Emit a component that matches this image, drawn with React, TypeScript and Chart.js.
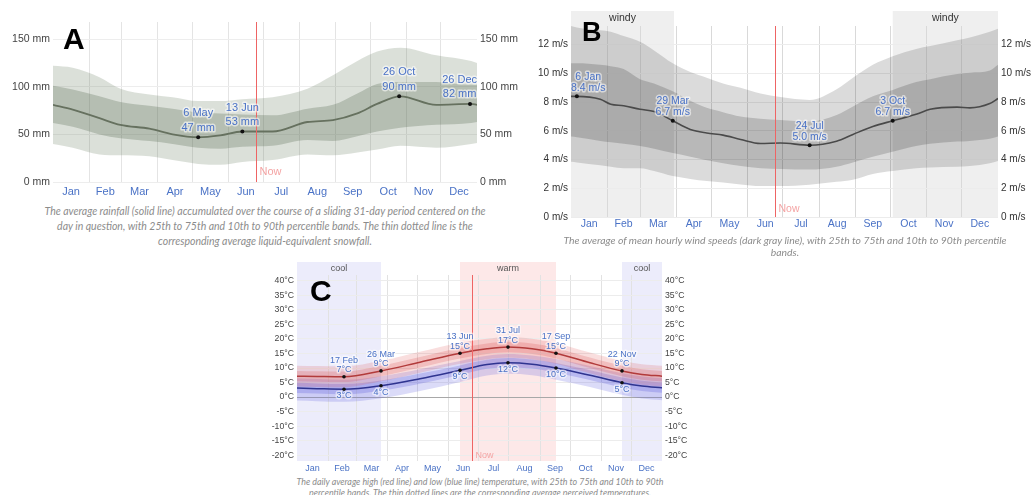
import React, { useEffect, useRef } from 'react';
import { Chart, registerables } from 'chart.js';
Chart.register(...registerables);

// ---------- shared calendar ----------
const MONTHS = ['Jan', 'Feb', 'Mar', 'Apr', 'May', 'Jun', 'Jul', 'Aug', 'Sep', 'Oct', 'Nov', 'Dec'];
const MONTH_STARTS = [0, 31, 59, 90, 120, 151, 181, 212, 243, 273, 304, 334, 365];
const NOW_DAY = 174.5;

// ---------- Panel A: rainfall (mm) ----------
const A_DAYS = [0, 17, 40, 58, 83, 103, 125, 144, 163, 189, 219, 241, 262, 279, 299, 330, 360, 365];
const A_MEAN = [81, 76, 67, 60, 56, 50, 47, 49, 53, 53, 63, 65, 72, 82, 90, 81, 82, 81];
const A_P90 = [122, 120, 110, 98, 92, 89, 85, 85, 87, 89, 98, 112, 127, 137, 141, 133, 127, 125];
const A_P75 = [101, 97, 90, 84, 80, 77, 73, 72, 71, 70, 77, 81, 93, 103, 105, 105, 102, 102];
const A_P25 = [62, 58, 50, 46, 43, 40, 36, 35, 37, 38, 44, 43, 48, 53, 57, 60, 62, 63];
const A_P10 = [40, 36, 29, 28, 27, 23, 19, 18, 21, 23, 29, 28, 31, 34, 38, 36, 40, 41];
const A_Y_TICKS = [0, 50, 100, 150];
const A_ANN_DAYS = [125, 163, 298, 359];
const A_ANN_VALUES = [47, 53, 90, 82];
const A_ANN_DATES = ['6 May', '13 Jun', '26 Oct', '26 Dec'];

// ---------- Panel B: wind speed (m/s) ----------
const B_DAYS = [0, 5, 25, 34, 45, 59, 71, 87, 102, 116, 130, 145, 162, 179, 204, 227, 241, 258, 275, 295, 307, 330, 341, 358, 365];
const B_MEAN = [8.4, 8.4, 8.2, 7.85, 7.75, 7.5, 7.35, 6.7, 6.1, 5.85, 5.7, 5.4, 5.12, 5.15, 5.0, 5.28, 5.75, 6.3, 6.7, 7.15, 7.5, 7.65, 7.6, 7.9, 8.25];
const B_P90 = [13.3, 13.2, 13.0, 12.9, 12.6, 12.2, 11.6, 10.7, 10.1, 9.7, 9.3, 9.0, 8.6, 8.35, 8.15, 8.9, 9.7, 10.6, 11.2, 11.7, 11.9, 12.3, 12.5, 12.9, 13.1];
const B_P75 = [10.7, 10.7, 10.6, 10.5, 10.3, 9.6, 9.3, 8.75, 8.1, 7.6, 7.3, 7.0, 6.85, 6.75, 6.65, 7.1, 7.7, 8.4, 8.85, 9.4, 9.6, 9.95, 10.05, 10.2, 10.6];
const B_P25 = [5.6, 5.55, 5.3, 5.2, 5.1, 4.95, 4.75, 4.45, 4.2, 3.95, 3.75, 3.55, 3.4, 3.35, 3.3, 3.5, 3.8, 4.2, 4.55, 4.95, 5.1, 5.25, 5.3, 5.45, 5.6];
const B_P10 = [3.85, 3.8, 3.6, 3.5, 3.4, 3.4, 3.2, 2.85, 2.65, 2.5, 2.4, 2.27, 2.15, 2.15, 2.25, 2.45, 2.6, 3.0, 3.2, 3.4, 3.45, 3.5, 3.55, 3.75, 3.9];
const B_Y_TICKS = [0, 2, 4, 6, 8, 10, 12];
const B_WINDY = [[0, 88], [275, 365]];
const B_ANN_DAYS = [5, 87, 204, 275];
const B_ANN_VALUES = [8.4, 6.7, 5.0, 6.7];
const B_ANN_DATES = ['6 Jan', '29 Mar', '24 Jul', '3 Oct'];

// ---------- Panel C: temperature (°C) ----------
const C_DAYS = [0, 20, 47, 84, 123, 163, 190, 211, 235, 259, 293, 325, 345, 365];
const C_HIGH = [7.2, 7.1, 7.0, 9.0, 12.0, 15.1, 16.6, 17.2, 16.6, 15.1, 11.8, 9.0, 7.8, 7.2];
const C_HIGH_P90 = [10.8, 10.7, 10.6, 12.5, 15.6, 18.7, 20.1, 20.7, 20.1, 18.6, 15.3, 12.5, 11.3, 10.8];
const C_HIGH_P75 = [9.0, 8.9, 8.8, 10.8, 13.8, 16.9, 18.4, 19.0, 18.4, 16.9, 13.6, 10.8, 9.6, 9.0];
const C_HIGH_P25 = [5.4, 5.3, 5.2, 7.2, 10.2, 13.3, 14.8, 15.4, 14.8, 13.3, 10.0, 7.2, 6.0, 5.4];
const C_HIGH_P10 = [3.6, 3.5, 3.4, 5.4, 8.4, 11.5, 13.0, 13.6, 13.0, 11.5, 8.2, 5.4, 4.2, 3.6];
const C_LOW = [3.1, 2.9, 2.7, 3.9, 6.3, 9.2, 11.2, 11.8, 11.3, 10.0, 7.5, 4.95, 3.8, 3.2];
const C_LOW_P90 = [6.4, 6.2, 6.0, 7.2, 9.6, 12.4, 14.2, 14.8, 14.3, 13.1, 10.7, 8.2, 7.1, 6.5];
const C_LOW_P75 = [4.9, 4.7, 4.5, 5.7, 8.1, 10.9, 12.8, 13.4, 12.9, 11.7, 9.2, 6.7, 5.6, 5.0];
const C_LOW_P25 = [1.4, 1.2, 1.0, 2.2, 4.6, 7.6, 9.7, 10.3, 9.8, 8.4, 5.9, 3.3, 2.1, 1.5];
const C_LOW_P10 = [-1.2, -1.4, -1.6, -0.4, 2.1, 5.2, 7.4, 8.0, 7.5, 6.0, 3.5, 0.8, -0.5, -1.1];
const C_Y_TICKS = [-20, -15, -10, -5, 0, 5, 10, 15, 20, 25, 30, 35, 40];
const C_COOL = [[0, 84], [325, 365]];
const C_WARM = [[163, 259]];
const C_ANN_DAYS = [47, 84, 163, 211, 259, 325];
const C_ANN_DATES = ['17 Feb', '26 Mar', '13 Jun', '31 Jul', '17 Sep', '22 Nov'];
const C_ANN_HIGH = [7.0, 9.0, 15.1, 17.2, 15.1, 9.0];
const C_ANN_LOW = [2.7, 3.9, 9.2, 11.8, 10.0, 4.95];

// ---------- helpers ----------
const FONT = "'Liberation Sans', Arial, Helvetica, sans-serif";
const BLUE = '#4a72c6';
const CLEAR = 'rgba(0,0,0,0)';

function pts(days: number[], vals: number[]) {
  return days.map((d, i) => ({ x: d, y: vals[i] }));
}
function lineDs(days: number[], vals: number[], color: string, width: number) {
  return { data: pts(days, vals), borderColor: color, borderWidth: width, pointRadius: 0, fill: false, cubicInterpolationMode: 'monotone' };
}
function bandDs(days: number[], vals: number[], fill: number | false, color?: string) {
  return {
    data: pts(days, vals), borderWidth: 0, borderColor: CLEAR, pointRadius: 0, fill,
    backgroundColor: color || CLEAR, cubicInterpolationMode: 'monotone',
  };
}

function xAxis(fontSize: number, height: number, padding: number, gridColor: string) {
  return {
    type: 'linear', min: 0, max: 365,
    afterBuildTicks: (s: any) => {
      const t: any[] = [];
      for (let i = 0; i < 12; i++) {
        t.push({ value: MONTH_STARTS[i] });
        t.push({ value: (MONTH_STARTS[i] + MONTH_STARTS[i + 1]) / 2 });
      }
      t.push({ value: 365 });
      s.ticks = t;
    },
    afterFit: (s: any) => { s.height = height; },
    ticks: {
      autoSkip: false, maxRotation: 0, minRotation: 0, padding, color: BLUE,
      font: { family: FONT, size: fontSize },
      callback: (v: number) => {
        for (let i = 0; i < 12; i++) {
          if (Math.abs((MONTH_STARTS[i] + MONTH_STARTS[i + 1]) / 2 - v) < 0.01) return MONTHS[i];
        }
        return '';
      },
    },
    grid: {
      drawTicks: false,
      color: (c: any) => {
        const v = c.tick ? c.tick.value : -1;
        return v > 0 && v < 365 && MONTH_STARTS.includes(v) ? gridColor : CLEAR;
      },
    },
    border: { display: false },
  };
}

function yAxis(pos: string, min: number, max: number, ticks: number[], fmt: (v: number) => string,
  width: number, fontSize: number, color: string, grid: any) {
  return {
    type: 'linear', position: pos, min, max,
    afterBuildTicks: (s: any) => { s.ticks = ticks.map((v) => ({ value: v })); },
    afterFit: (s: any) => { s.width = width; },
    ticks: { padding: 3, color, font: { family: FONT, size: fontSize }, callback: (v: number) => fmt(v) },
    grid: grid ? { drawTicks: false, color: grid } : { display: false, drawTicks: false },
    border: { display: false },
  };
}

type Ann = { day: number; value: number; lines: string[]; below?: boolean };
type Period = { start: number; end: number; label: string; color: string };

function overlay(o: {
  periods: Period[]; periodExt: number; periodFont: string; periodText: string;
  nowFont: string; nowOff: number; anns: Ann[]; annFont: string; annLh: number;
  annOff: number; annBelow: number; dotR: number;
}) {
  return {
    id: 'overlay',
    beforeDraw(chart: any) {
      const { ctx, chartArea: a } = chart;
      const x = chart.scales.x;
      ctx.save();
      for (const p of o.periods) {
        const x0 = x.getPixelForValue(p.start);
        const x1 = x.getPixelForValue(p.end);
        ctx.fillStyle = p.color;
        ctx.fillRect(x0, a.top - o.periodExt, x1 - x0, a.bottom - a.top + o.periodExt);
        ctx.fillStyle = o.periodText;
        ctx.font = o.periodFont;
        ctx.textAlign = 'center';
        ctx.textBaseline = 'middle';
        ctx.fillText(p.label, (x0 + x1) / 2, a.top - o.periodExt / 2);
      }
      ctx.restore();
    },
    afterDatasetsDraw(chart: any) {
      const { ctx, chartArea: a } = chart;
      const x = chart.scales.x;
      const y = chart.scales.y;
      ctx.save();
      const nx = Math.round(x.getPixelForValue(NOW_DAY)) + 0.5;
      ctx.strokeStyle = '#ee6464';
      ctx.lineWidth = 1;
      ctx.beginPath();
      ctx.moveTo(nx, a.top);
      ctx.lineTo(nx, a.bottom);
      ctx.stroke();
      ctx.fillStyle = '#f4a4a4';
      ctx.font = o.nowFont;
      ctx.textAlign = 'left';
      ctx.textBaseline = 'middle';
      ctx.fillText('Now', nx + 3, a.bottom - o.nowOff);

      ctx.font = o.annFont;
      ctx.textAlign = 'center';
      ctx.textBaseline = 'middle';
      ctx.lineJoin = 'round';
      for (const an of o.anns) {
        const px = x.getPixelForValue(an.day);
        const py = y.getPixelForValue(an.value);
        const w = Math.max(...an.lines.map((l) => ctx.measureText(l).width));
        const cx = Math.min(Math.max(px, a.left + w / 2), a.right - w / 2);
        an.lines.forEach((l, i) => {
          const ly = an.below ? py + o.annBelow + i * o.annLh : py - o.annOff - (an.lines.length - 1 - i) * o.annLh;
          ctx.lineWidth = 3;
          ctx.strokeStyle = 'rgba(255,255,255,0.55)';
          ctx.strokeText(l, cx, ly);
          ctx.fillStyle = BLUE;
          ctx.fillText(l, cx, ly);
        });
        ctx.fillStyle = '#111';
        ctx.beginPath();
        ctx.arc(px, py, o.dotR, 0, Math.PI * 2);
        ctx.fill();
      }
      ctx.restore();
    },
  };
}

function baseOptions(scales: any, top: number) {
  return {
    responsive: false,
    maintainAspectRatio: false,
    animation: false,
    devicePixelRatio: 1,
    layout: { padding: { top, left: 0, right: 0, bottom: 0 } },
    plugins: { legend: { display: false }, tooltip: { enabled: false }, filler: { drawTime: 'beforeDatasetsDraw' } },
    scales,
  };
}

// ---------- configs ----------
function configA(): any {
  const fmt = (v: number) => `${v} mm`;
  return {
    type: 'line',
    data: {
      datasets: [
        lineDs(A_DAYS, A_MEAN, '#66715f', 1.8),
        bandDs(A_DAYS, A_P90, 2, 'rgba(105,125,95,0.24)'),
        bandDs(A_DAYS, A_P10, false),
        bandDs(A_DAYS, A_P75, 4, 'rgba(90,105,85,0.30)'),
        bandDs(A_DAYS, A_P25, false),
      ],
    },
    options: baseOptions({
      x: xAxis(11, 18, 3, '#e4e4e4'),
      y: yAxis('left', 0, 168, A_Y_TICKS, fmt, 53, 10.5, '#444', '#ededed'),
      y2: yAxis('right', 0, 168, A_Y_TICKS, fmt, 43, 10.5, '#444', null),
    }, 22),
    plugins: [overlay({
      periods: [], periodExt: 0, periodFont: '', periodText: '',
      nowFont: `11px ${FONT}`, nowOff: 10,
      anns: A_ANN_DAYS.map((d, i) => ({ day: d, value: A_ANN_VALUES[i], lines: [A_ANN_DATES[i], `${A_ANN_VALUES[i]} mm`] })),
      annFont: `11px ${FONT}`, annLh: 14.5, annOff: 9.5, annBelow: 0, dotR: 2,
    })],
  };
}

function configB(): any {
  const fmt = (v: number) => `${v} m/s`;
  return {
    type: 'line',
    data: {
      datasets: [
        lineDs(B_DAYS, B_MEAN, '#4a4a4a', 1.6),
        bandDs(B_DAYS, B_P90, 2, 'rgba(0,0,0,0.14)'),
        bandDs(B_DAYS, B_P10, false),
        bandDs(B_DAYS, B_P75, 4, 'rgba(0,0,0,0.16)'),
        bandDs(B_DAYS, B_P25, false),
      ],
    },
    options: baseOptions({
      x: xAxis(10.5, 15, 1, '#d9d9d9'),
      y: yAxis('left', 0, 13.3, B_Y_TICKS, fmt, 51, 10, '#333', '#ececec'),
      y2: yAxis('right', 0, 13.3, B_Y_TICKS, fmt, 36, 10, '#333', null),
    }, 26),
    plugins: [overlay({
      periods: B_WINDY.map(([s, e]) => ({ start: s, end: e, label: 'windy', color: '#efefef' })),
      periodExt: 15, periodFont: `10.5px ${FONT}`, periodText: '#333',
      nowFont: `10.5px ${FONT}`, nowOff: 8,
      anns: B_ANN_DAYS.map((d, i) => ({ day: d, value: B_ANN_VALUES[i], lines: [B_ANN_DATES[i], `${B_ANN_VALUES[i].toFixed(1)} m/s`] })),
      annFont: `10.5px ${FONT}`, annLh: 11, annOff: 8.5, annBelow: 0, dotR: 2,
    })],
  };
}

function configC(): any {
  const fmt = (v: number) => `${v}°C`;
  const anns: Ann[] = [];
  C_ANN_DAYS.forEach((d, i) => {
    anns.push({ day: d, value: C_ANN_HIGH[i], lines: [C_ANN_DATES[i], `${Math.round(C_ANN_HIGH[i])}°C`] });
    anns.push({ day: d, value: C_ANN_LOW[i], lines: [`${Math.round(C_ANN_LOW[i])}°C`], below: true });
  });
  const periods: Period[] = [
    ...C_COOL.map(([s, e]) => ({ start: s, end: e, label: 'cool', color: '#ececfb' })),
    ...C_WARM.map(([s, e]) => ({ start: s, end: e, label: 'warm', color: '#fde8e8' })),
  ];
  return {
    type: 'line',
    data: {
      datasets: [
        lineDs(C_DAYS, C_HIGH, '#b23b3b', 1.5),
        lineDs(C_DAYS, C_LOW, '#2f3490', 1.5),
        bandDs(C_DAYS, C_HIGH_P90, 3, 'rgba(225,90,90,0.20)'),
        bandDs(C_DAYS, C_HIGH_P10, false),
        bandDs(C_DAYS, C_HIGH_P75, 5, 'rgba(215,70,70,0.22)'),
        bandDs(C_DAYS, C_HIGH_P25, false),
        bandDs(C_DAYS, C_LOW_P90, 7, 'rgba(90,90,225,0.22)'),
        bandDs(C_DAYS, C_LOW_P10, false),
        bandDs(C_DAYS, C_LOW_P75, 9, 'rgba(70,70,215,0.24)'),
        bandDs(C_DAYS, C_LOW_P25, false),
      ],
    },
    options: baseOptions({
      x: xAxis(9, 14, 2, '#e2e2e2'),
      y: yAxis('left', -22, 42, C_Y_TICKS, fmt, 37, 8.7, '#444',
        (c: any) => (c.tick && c.tick.value === 0 ? '#a8a8a8' : '#ececec')),
      y2: yAxis('right', -22, 42, C_Y_TICKS, fmt, 48, 8.7, '#444', null),
    }, 20),
    plugins: [overlay({
      periods, periodExt: 13, periodFont: `9px ${FONT}`, periodText: '#555',
      nowFont: `9px ${FONT}`, nowOff: 5,
      anns, annFont: `9px ${FONT}`, annLh: 9.5, annOff: 7, annBelow: 6.5, dotR: 1.8,
    })],
  };
}

function ChartCanvas({ make, left, top, width, height }: { make: () => any; left: number; top: number; width: number; height: number }) {
  const ref = useRef<HTMLCanvasElement>(null);
  useEffect(() => {
    const chart = new Chart(ref.current as HTMLCanvasElement, make());
    return () => chart.destroy();
  }, []);
  return <canvas ref={ref} width={width} height={height} style={{ position: 'absolute', left, top, width, height }} />;
}

const captionStyle = (left: number, top: number, width: number, size: number, lh: number): React.CSSProperties => ({
  position: 'absolute', left, top, width, textAlign: 'center', whiteSpace: 'nowrap',
  fontFamily: 'Lato, "Open Sans", sans-serif', fontStyle: 'italic', fontSize: size, lineHeight: `${lh}px`, color: '#8c8c8c',
});
const letterStyle = (left: number, top: number, size: number): React.CSSProperties => ({
  position: 'absolute', left, top, fontFamily: FONT, fontWeight: 'bold', fontSize: size, lineHeight: `${size}px`, color: '#000',
});

export default function App() {
  return (
    <div style={{ position: 'fixed', left: 0, top: 0, width: 1034, height: 495, background: '#fff', overflow: 'hidden' }}>
      <ChartCanvas make={configA} left={0} top={0} width={520} height={200} />
      <ChartCanvas make={configB} left={520} top={0} width={514} height={232} />
      <ChartCanvas make={configC} left={260} top={255} width={450} height={220} />
      <div style={letterStyle(63, 24, 30)}>A</div>
      <div style={letterStyle(582, 19, 27)}>B</div>
      <div style={letterStyle(310, 276, 30)}>C</div>
      <div style={captionStyle(15, 203.5, 500, 10.5, 15)}>
        The average rainfall (solid line) accumulated over the course of a sliding 31-day period centered on the<br />
        day in question, with 25th to 75th and 10th to 90th percentile bands. The thin dotted line is the<br />
        corresponding average liquid-equivalent snowfall.
      </div>
      <div style={captionStyle(535, 234, 500, 10.4, 12.3)}>
        The average of mean hourly wind speeds (dark gray line), with 25th to 75th and 10th to 90th percentile<br />
        bands.
      </div>
      <div style={captionStyle(280, 476, 400, 8.9, 11)}>
        The daily average high (red line) and low (blue line) temperature, with 25th to 75th and 10th to 90th<br />
        percentile bands. The thin dotted lines are the corresponding average perceived temperatures.
      </div>
    </div>
  );
}
